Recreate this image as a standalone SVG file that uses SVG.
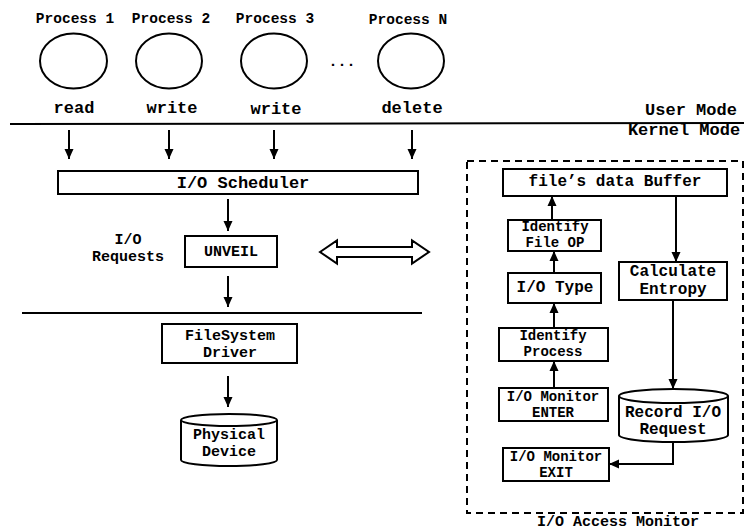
<svg xmlns="http://www.w3.org/2000/svg" width="744" height="530" viewBox="0 0 744 530">
<style>
text{font-family:"Liberation Mono","Courier New",monospace;font-weight:bold;fill:#000;text-anchor:middle;dominant-baseline:central}
.box{fill:#fff;stroke:#000;stroke-width:2}
.ln{fill:none;stroke:#000;stroke-width:2}
.arr{fill:none;stroke:#000;stroke-width:2;marker-end:url(#ah)}
.s14{font-size:14px}.s145{font-size:14.5px}.s15{font-size:15px}.s16{font-size:16px}.s17{font-size:17px}
</style>
<defs>
<marker id="ah" markerUnits="userSpaceOnUse" markerWidth="10" markerHeight="10" refX="10" refY="4.5" orient="auto" viewBox="0 0 10 9">
<path d="M0,0 L10,4.5 L0,9 z" fill="#000"/>
</marker>
</defs>
<rect width="744" height="530" fill="#fff"/>

<g id="process1"><text class="s145" x="75" y="19">Process 1</text><ellipse class="box" cx="73.5" cy="61" rx="33.5" ry="27.5"/><text class="s17" x="74" y="108">read</text></g>
<g id="process2"><text class="s145" x="171" y="19">Process 2</text><ellipse class="box" cx="169" cy="61" rx="33" ry="27.5"/><text class="s17" x="172" y="108">write</text></g>
<g id="process3"><text class="s145" x="275" y="19">Process 3</text><ellipse class="box" cx="274" cy="61" rx="33" ry="27.5"/><text class="s17" x="276" y="109">write</text></g>
<g id="dots"><text class="s15" x="342" y="62">...</text></g>
<g id="processN"><text class="s145" x="408" y="20">Process N</text><ellipse class="box" cx="411" cy="61" rx="33" ry="27.5"/><text class="s17" x="412" y="108">delete</text></g>

<g id="modes">
<line class="ln" x1="10" y1="124" x2="744" y2="123"/>
<text class="s17" x="691" y="110">User Mode</text>
<text class="s17" x="684" y="130">Kernel Mode</text>
</g>

<g id="scheduler"><rect class="box" x="58" y="171" width="360" height="23"/><text class="s17" x="243" y="183">I/O Scheduler</text></g>
<g id="io-requests"><text class="s15" x="128" y="240">I/O</text><text class="s15" x="128" y="257">Requests</text></g>
<g id="unveil"><rect class="box" x="185" y="236" width="92" height="31"/><text class="s15" x="231" y="252">UNVEIL</text></g>
<g id="bidir"><polygon class="box" points="320,252 337,240.5 337,247 412,247 412,240.5 429,252 412,263.5 412,257 337,257 337,263.5"/></g>
<g id="divider"><line class="ln" x1="22" y1="313" x2="422" y2="313"/></g>
<g id="fsdriver"><rect class="box" x="162" y="324" width="135" height="39"/><text class="s15" x="230" y="336">FileSystem</text><text class="s15" x="230" y="353">Driver</text></g>
<g id="physical">
<path class="box" d="M181,420 A48,6 0 0 1 277,420 L277,460 A48,6 0 0 1 181,460 Z"/>
<path class="ln" d="M181,420 A48,6 0 0 0 277,420"/>
<text class="s15" x="229" y="435">Physical</text><text class="s15" x="229" y="452">Device</text>
</g>

<g id="monitor">
<rect x="467" y="161" width="276" height="352" fill="none" stroke="#000" stroke-width="2" stroke-dasharray="7,5"/>
<text class="s15" x="618" y="522.5">I/O Access Monitor</text>
</g>
<g id="buffer"><rect class="box" x="503" y="169" width="224" height="27"/><text class="s16" x="615" y="182">file’s data Buffer</text></g>
<g id="fileop"><rect class="box" x="508" y="220" width="93" height="31"/><text class="s14" x="555" y="227">Identify</text><text class="s14" x="555" y="243">File OP</text></g>
<g id="iotype"><rect class="box" x="508" y="273" width="93" height="30"/><text class="s16" x="555" y="288">I/O Type</text></g>
<g id="entropy"><rect class="box" x="619" y="262" width="108" height="38"/><text class="s16" x="673" y="272">Calculate</text><text class="s16" x="673" y="290">Entropy</text></g>
<g id="identproc"><rect class="box" x="499" y="328" width="109" height="33"/><text class="s14" x="553" y="336">Identify</text><text class="s14" x="553" y="352">Process</text></g>
<g id="enter"><rect class="box" x="499" y="388" width="109" height="33"/><text class="s14" x="553" y="396.5">I/O Monitor</text><text class="s14" x="553" y="412.5">ENTER</text></g>
<g id="record">
<path class="box" d="M619,396 A54.5,7 0 0 1 728,396 L728,435 A54.5,7 0 0 1 619,435 Z"/>
<path class="ln" d="M619,396 A54.5,7 0 0 0 728,396"/>
<text class="s16" x="673" y="413">Record I/O</text><text class="s16" x="673" y="430">Request</text>
</g>
<g id="exit"><rect class="box" x="503" y="448" width="106" height="33"/><text class="s14" x="556" y="456.5">I/O Monitor</text><text class="s14" x="556" y="472.5">EXIT</text></g>

<g id="connectors">
<line class="arr" x1="69" y1="130" x2="69" y2="159"/>
<line class="arr" x1="169" y1="130" x2="169" y2="159"/>
<line class="arr" x1="274" y1="130" x2="274" y2="159"/>
<line class="arr" x1="412" y1="130" x2="412" y2="159"/>
<line class="arr" x1="228" y1="199" x2="228" y2="231"/>
<line class="arr" x1="228" y1="276" x2="228" y2="307"/>
<line class="arr" x1="228" y1="376" x2="228" y2="407"/>
<line class="arr" x1="552" y1="220" x2="552" y2="196"/>
<line class="arr" x1="554" y1="273" x2="554" y2="251"/>
<line class="arr" x1="554" y1="328" x2="554" y2="303"/>
<line class="arr" x1="554" y1="388" x2="554" y2="361"/>
<line class="arr" x1="676" y1="196" x2="676" y2="262"/>
<line class="arr" x1="673" y1="300" x2="673" y2="389"/>
<polyline class="arr" points="673,442 673,464 609,464"/>
</g>
</svg>
